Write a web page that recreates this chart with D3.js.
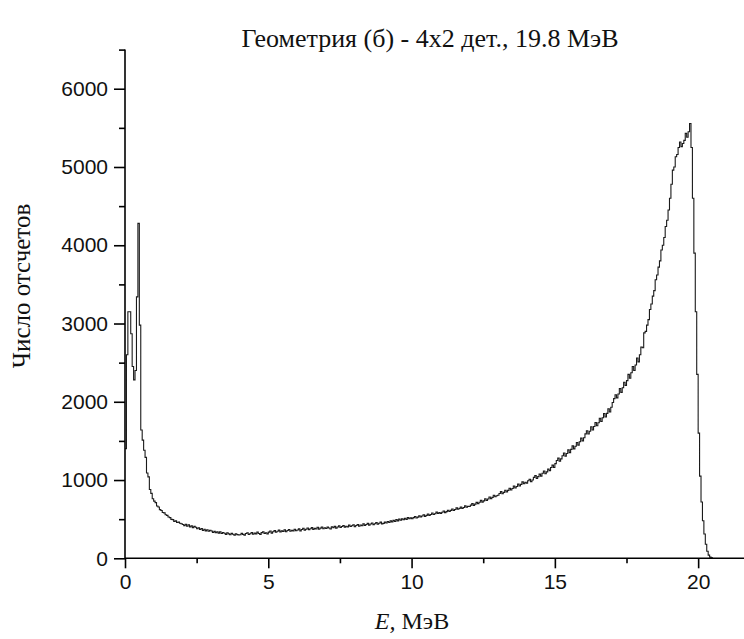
<!DOCTYPE html>
<html><head><meta charset="utf-8">
<script src="https://cdn.jsdelivr.net/npm/d3@7"></script>
<style>html,body{margin:0;padding:0;background:#fff;}</style>
</head><body>
<svg id="c" width="744" height="639"></svg>
<script>
const title = "Геометрия (б) - 4x2 дет., 19.8 МэВ";
const xLabelItalic = "E,";
const xLabelRest = " МэВ";
const yLabel = "Число отсчетов";
const binWidth = 0.05;   // MeV
const xMajorTicks = [0, 5, 10, 15, 20];
const xMinorTicks = [2.5, 7.5, 12.5, 17.5];
const yMajorTicks = [0, 1000, 2000, 3000, 4000, 5000, 6000];
const yMinorTicks = [500, 1500, 2500, 3500, 4500, 5500, 6500];
const counts = [
  // 0-1 MeV
  1400,2600,3150,3150,2870,2450,2280,2400,3340,4280,2980,1640,1510,1380,1290,1090,1040,880,830,760,
  // 1-2
  730,712,668,655,622,610,585,580,556,549,528,520,497,494,472,478,458,462,447,441,
  // 2-3
  432,418,436,410,428,402,414,392,408,396,378,390,368,380,356,372,350,364,346,358,
  // 3-4
  348,330,344,326,338,322,340,316,330,320,306,326,312,300,318,308,296,314,302,298,
  // 4-5
  300,318,306,296,316,326,304,314,330,308,322,312,334,316,306,328,340,318,326,312,
  // 5-6
  334,348,322,340,354,332,346,360,338,350,344,364,340,356,368,346,358,350,372,352,
  // 6-7
  362,376,350,368,384,360,372,388,366,378,392,370,382,374,396,372,386,400,378,390,
  // 7-8
  380,398,388,374,404,392,408,386,400,414,394,406,420,398,410,402,424,406,416,428,
  // 8-9
  404,420,432,410,426,416,440,420,432,446,424,438,452,430,442,456,436,448,462,440,
  // 9-10
  446,462,452,470,458,478,466,484,470,494,478,500,486,504,492,512,498,520,506,516,
  // 10-11
  506,520,534,514,526,542,528,540,556,536,548,566,548,560,578,560,570,590,572,584,
  // 11-12
  572,588,604,584,596,614,598,612,630,610,624,644,626,638,656,636,650,670,652,664,
  // 12-13
  662,680,698,676,692,714,698,716,740,718,734,760,740,758,784,762,778,806,786,800,
  // 13-14
  806,828,852,824,842,870,848,868,896,872,892,924,898,918,948,924,944,976,952,972,
  // 14-15
  960,990,1010,980,1000,1034,1056,1020,1044,1076,1050,1086,1116,1080,1104,1140,1120,1160,1190,1160,
  // 15-16
  1210,1250,1280,1240,1270,1310,1346,1306,1340,1386,1350,1392,1436,1398,1432,1480,1446,1490,1536,1500,
  // 16-17
  1540,1590,1630,1588,1624,1680,1640,1684,1736,1694,1732,1790,1748,1796,1850,1806,1852,1910,1870,1930,
  // 17-18
  1990,2040,2090,2050,2100,2170,2120,2180,2250,2210,2270,2350,2300,2370,2450,2400,2470,2560,2510,2600,
  // 18-19
  2700,2690,2880,2900,2980,3050,3180,3250,3350,3420,3560,3620,3720,3800,3940,4000,4100,4240,4320,4450,
  // 19-20
  4600,4780,4960,5000,5130,5160,5250,5320,5260,5300,5340,5430,5380,5450,5556,5250,4600,3900,3150,2350,
  // 20-20.5
  1600,1050,720,480,310,180,90,40,15,5
];

const svg = d3.select("#c");
const x = d3.scaleLinear().domain([0, 21.6]).range([125, 744]);
const y = d3.scaleLinear().domain([0, 6500]).range([558.3, 49.6]);

// histogram step line
const pts = counts.map((c, i) => [i * binWidth, c]);
pts.push([counts.length * binWidth, 0]);
const line = d3.line().x(d => x(d[0])).y(d => y(d[1])).curve(d3.curveStepAfter);
svg.append("path").datum(pts).attr("d", line)
  .attr("fill", "none").attr("stroke", "#1a1a1a").attr("stroke-width", 1.1);

// axes
const tickFont = "'Liberation Sans', Arial, sans-serif";
const serif = "'Liberation Serif', 'Times New Roman', serif";

const xAxis = svg.append("g").attr("transform", `translate(0,${y(0)})`)
  .call(d3.axisBottom(x).tickValues(xMajorTicks).tickSize(10).tickPadding(6).tickFormat(d3.format("d")));
const xMinor = svg.append("g").attr("transform", `translate(0,${y(0)})`)
  .call(d3.axisBottom(x).tickValues(xMinorTicks).tickSize(5).tickFormat(""));
const yAxis = svg.append("g").attr("transform", `translate(${x(0)},0)`)
  .call(d3.axisLeft(y).tickValues(yMajorTicks).tickSize(11).tickPadding(6).tickFormat(d3.format("d")));
const yMinor = svg.append("g").attr("transform", `translate(${x(0)},0)`)
  .call(d3.axisLeft(y).tickValues(yMinorTicks).tickSize(6).tickFormat(""));

[xAxis, xMinor, yAxis, yMinor].forEach(g => {
  g.select(".domain").attr("stroke", "#000").attr("stroke-width", 1.6);
  g.selectAll(".tick line").attr("stroke", "#000").attr("stroke-width", 1.6);
  g.selectAll("text").attr("font-family", tickFont).attr("font-size", 21).attr("fill", "#111");
});
xMinor.select(".domain").remove();
yMinor.select(".domain").remove();
yAxis.select(".domain").attr("d", `M0,${y(6500)}V${y(0)}`);
xAxis.select(".domain").attr("d", `M${x(0)},0H744`);

// title
svg.append("text").attr("x", 430).attr("y", 47).attr("text-anchor", "middle")
  .attr("font-family", serif).attr("font-size", 26).attr("fill", "#111").text(title);

// x label
const xl = svg.append("text").attr("x", 412).attr("y", 629).attr("text-anchor", "middle")
  .attr("font-family", serif).attr("font-size", 24).attr("fill", "#111");
xl.append("tspan").attr("font-style", "italic").text(xLabelItalic);
xl.append("tspan").text(xLabelRest);

// y label
svg.append("text").attr("transform", "translate(30,286) rotate(-90)").attr("text-anchor", "middle")
  .attr("font-family", serif).attr("font-size", 25).attr("fill", "#111").text(yLabel);
</script>
</body></html>
